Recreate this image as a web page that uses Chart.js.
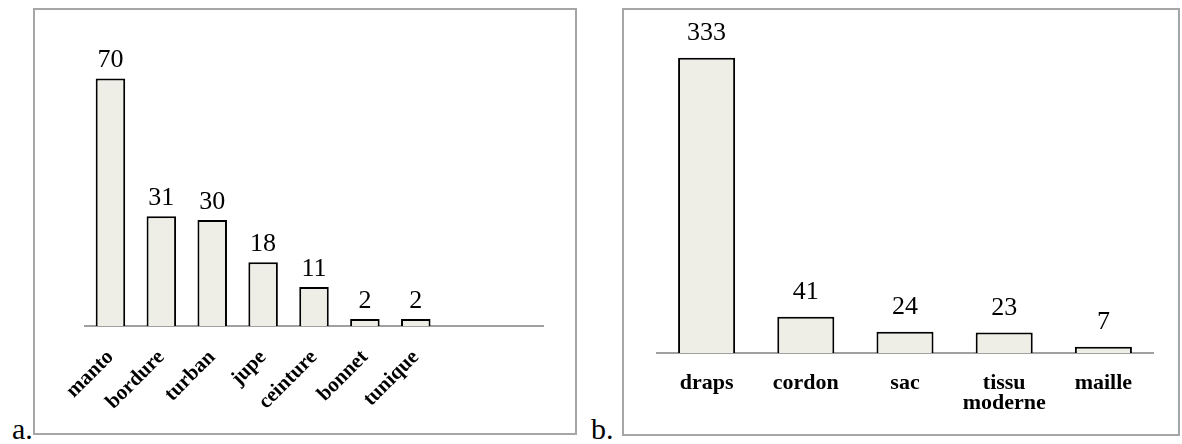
<!DOCTYPE html>
<html lang="fr">
<head>
<meta charset="UTF-8">
<title>Textiles</title>
<script src="https://cdn.jsdelivr.net/npm/chart.js"></script>
<style>
    body {
        margin: 0;
        background: #ffffff;
        width: 1182px;
        height: 444px;
        position: relative;
        overflow: hidden;
        font-family: "Liberation Serif", serif;
    }
    .panel {
        position: absolute;
        box-sizing: border-box;
        border: 2px solid #a6a6a6;
    }
    .box {
        position: absolute;
    }
    .tag {
        position: absolute;
        font-size: 30px;
        line-height: 30px;
        color: #000;
    }
</style>
</head>
<body>
    <div class="panel" style="left:33px; top:8px; width:544px; height:427px;"></div>
    <div class="panel" style="left:622px; top:8px; width:558px; height:428px;"></div>
    <div class="tag" style="left:12px; top:414px;">a.</div>
    <div class="tag" style="left:591px; top:414px;">b.</div>

    <div class="box" style="left:35px; top:10px; width:540px; height:422px;">
        <canvas id="chartA"></canvas>
    </div>
    <div class="box" style="left:624px; top:10px; width:552px; height:424px;">
        <canvas id="chartB"></canvas>
    </div>

<script>
// panel a: garments (two empty slots at the end of the axis)
const labelsA = ['manto', 'bordure', 'turban', 'jupe', 'ceinture', 'bonnet', 'tunique', '', ''];
const valuesA = [70, 31, 30, 18, 11, 2, 2, null, null];

// panel b: other textiles
const labelsB = ['draps', 'cordon', 'sac', ['tissu', 'moderne'], 'maille'];
const valuesB = [333, 41, 24, 23, 7];

const barFill = '#efeee6';

// draws the count above each bar
const valueLabels = {
    id: 'valueLabels',
    afterDatasetsDraw(chart, args, opts) {
        const ctx = chart.ctx;
        const meta = chart.getDatasetMeta(0);
        const data = chart.data.datasets[0].data;
        ctx.save();
        ctx.font = '26px "Liberation Serif", serif';
        ctx.fillStyle = '#000';
        ctx.textAlign = 'center';
        ctx.textBaseline = 'alphabetic';
        meta.data.forEach((bar, i) => {
            if (data[i] == null) return;
            ctx.fillText(String(data[i]), bar.x, bar.y - opts.gap);
        });
        ctx.restore();
    }
};

function makeChart(id, labels, values, cfg) {
    return new Chart(document.getElementById(id), {
        type: 'bar',
        data: {
            labels: labels,
            datasets: [{
                data: values,
                backgroundColor: barFill,
                borderColor: '#000',
                borderWidth: 2,
                borderSkipped: 'bottom',
                categoryPercentage: 1,
                barPercentage: cfg.bar
            }]
        },
        options: {
            responsive: true,
            maintainAspectRatio: false,
            animation: false,
            layout: { padding: cfg.padding },
            plugins: {
                legend: { display: false },
                tooltip: { enabled: false },
                valueLabels: { gap: cfg.gap }
            },
            scales: {
                x: {
                    z: 1,
                    grid: { display: false, drawTicks: false },
                    border: { display: true, color: '#a0a0a0', width: 2 },
                    ticks: {
                        color: '#000',
                        autoSkip: false,
                        minRotation: cfg.rot,
                        maxRotation: cfg.rot,
                        padding: cfg.tickPad,
                        font: { family: '"Liberation Serif", serif', weight: 'bold', size: cfg.fontSize, lineHeight: '20px' }
                    },
                    afterFit: (s) => { s.height = cfg.axisH; }
                },
                y: {
                    display: false,
                    min: 0,
                    max: cfg.max
                }
            }
        },
        plugins: [valueLabels]
    });
}

makeChart('chartA', labelsA, valuesA, {
    bar: 0.58, gap: 11, rot: 45, tickPad: 21, fontSize: 21,
    axisH: 106, max: 80,
    padding: { left: 50, right: 32, top: 33, bottom: 0 }
});

makeChart('chartB', labelsB, valuesB, {
    bar: 0.575, gap: 18, rot: 0, tickPad: 20, fontSize: 22,
    axisH: 81, max: 370,
    padding: { left: 33, right: 23, top: 15, bottom: 0 }
});
</script>
</body>
</html>
